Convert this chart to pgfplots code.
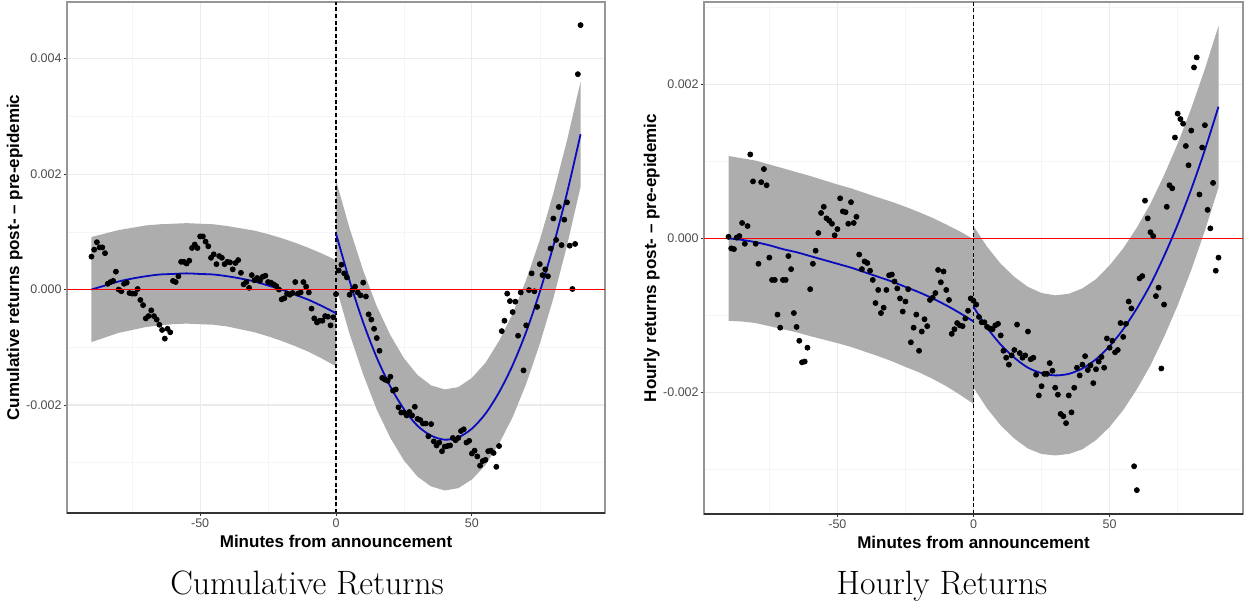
\documentclass[border=0pt]{standalone}
\usepackage{fontspec}
\setsansfont{Liberation Sans}
\usepackage{pgfplots}
\usepackage{pgfplotstable}
\pgfplotsset{compat=1.18}

\definecolor{band}{RGB}{173,173,173}
\definecolor{fitblue}{RGB}{10,10,190}
\definecolor{tickgray}{RGB}{77,77,77}
\definecolor{gridmaj}{RGB}{235,235,235}
\definecolor{gridmin}{RGB}{245,245,245}
\definecolor{frame}{RGB}{150,150,150}
\definecolor{axisdark}{RGB}{51,51,51}
\definecolor{refred}{RGB}{255,0,0}

% values in units of 1e-3
\pgfplotstableread{
x y
-90 0.57
-89 0.69
-88 0.82
-87 0.73
-86 0.73
-85 0.63
-84 0.10
-83 0.13
-82 0.15
-81 0.31
-80 0.00
-79 -0.03
-78 0.10
-77 0.12
-76 -0.06
-75 -0.07
-74 -0.07
-73 0.01
-72 -0.18
-71 -0.27
-70 -0.50
-69 -0.46
-68 -0.36
-67 -0.46
-66 -0.52
-65 -0.61
-64 -0.70
-63 -0.85
-62 -0.68
-61 -0.74
-60 0.15
-59 0.13
-58 0.23
-57 0.48
-56 0.48
-55 0.45
-54 0.50
-53 0.72
-52 0.78
-51 0.72
-50 0.92
-49 0.92
-48 0.83
-47 0.75
-46 0.55
-45 0.61
-44 0.44
-43 0.58
-42 0.55
-41 0.44
-40 0.48
-39 0.47
-38 0.35
-37 0.46
-36 0.51
-35 0.29
-34 0.09
-33 0.13
-32 0.03
-31 0.25
-30 0.16
-29 0.20
-28 0.15
-27 0.22
-26 0.24
-25 0.13
-24 0.12
-23 0.09
-22 0.06
-21 0.00
-20 -0.17
-19 -0.15
-18 -0.07
-17 -0.09
-16 -0.06
-15 0.13
-14 -0.07
-13 -0.05
-12 0.13
-11 0.05
-10 -0.05
-9 -0.33
-8 -0.50
-7 -0.57
-6 -0.54
-5 -0.54
-4 -0.46
-3 -0.47
-2 -0.62
-1 -0.48
}\ptsLpre

\pgfplotstableread{
x y
0 -0.08
1 0.33
2 0.43
3 0.28
4 0.21
5 -0.09
6 -0.01
7 0.05
8 -0.05
9 -0.10
10 0.12
11 -0.12
12 -0.43
13 -0.52
14 -0.68
15 -0.84
16 -1.06
17 -1.53
18 -1.56
19 -1.58
20 -1.51
21 -1.75
22 -1.73
23 -2.04
24 -2.13
25 -2.13
26 -2.18
27 -2.12
28 -2.18
29 -2.03
30 -2.24
31 -2.26
32 -2.32
33 -2.32
34 -2.54
35 -2.33
36 -2.63
37 -2.70
38 -2.65
39 -2.80
40 -2.72
41 -2.71
42 -2.70
43 -2.57
44 -2.61
45 -2.57
46 -2.45
47 -2.42
48 -2.65
49 -2.62
50 -2.84
51 -2.79
52 -2.89
53 -3.05
54 -2.97
55 -2.95
56 -2.80
57 -2.79
58 -2.83
59 -3.07
60 -2.71
61 -0.72
62 -0.54
63 -0.07
64 -0.20
65 -0.39
66 -0.21
67 -0.80
68 -0.05
69 -1.40
70 -0.62
71 -0.01
72 0.28
73 -0.03
74 -0.30
75 0.44
76 0.25
77 0.35
78 0.23
79 0.71
80 1.23
81 0.86
82 1.43
83 0.77
84 1.21
85 1.51
86 0.76
87 0.01
88 0.79
89 3.73
90 4.58
}\ptsLpost

\pgfplotstableread{
x y
-90 0.02
-89 -0.13
-88 -0.14
-87 0.01
-86 0.03
-85 0.20
-84 -0.07
-83 0.16
-82 1.09
-81 0.74
-80 -0.07
-79 -0.33
-78 0.73
-77 0.90
-76 0.69
-75 -0.25
-74 -0.54
-73 -0.54
-72 -0.99
-71 -1.16
-70 -0.54
-69 -0.54
-68 -0.23
-67 -0.40
-66 -0.97
-65 -1.15
-64 -1.33
-63 -1.61
-62 -1.60
-61 -1.42
-60 -0.66
-59 -0.33
-58 -0.16
-57 0.07
-56 0.33
-55 0.41
-54 0.26
-53 0.23
-52 0.19
-51 0.04
-50 0.12
-49 0.52
-48 0.35
-47 0.34
-46 0.19
-45 0.47
-44 0.20
-43 0.28
-42 -0.21
-41 -0.40
-40 -0.30
-39 -0.32
-38 -0.42
-37 -0.54
-36 -0.84
-35 -0.67
-34 -0.97
-33 -0.90
-32 -0.67
-31 -0.48
-30 -0.47
-29 -0.56
-28 -0.65
-27 -0.78
-26 -0.95
-25 -0.82
-24 -0.66
-23 -1.35
-22 -1.16
-21 -0.99
-20 -1.46
-19 -1.21
-18 -1.05
-17 -1.14
-16 -0.80
-15 -0.77
-14 -0.71
-13 -0.41
-12 -0.57
-11 -0.43
-10 -0.67
-9 -0.80
-8 -1.24
-7 -1.18
-6 -1.10
-5 -1.13
-4 -1.14
-3 -1.04
-2 -0.94
-1 -0.78
}\ptsRpre

\pgfplotstableread{
x y
0 -0.81
1 -0.86
2 -1.02
3 -1.09
4 -1.09
5 -1.15
6 -1.17
7 -1.18
8 -1.13
9 -1.11
10 -1.26
11 -1.46
12 -1.55
13 -1.64
14 -1.52
15 -1.45
16 -1.12
17 -1.49
18 -1.55
19 -1.52
20 -1.21
21 -1.57
22 -1.55
23 -1.77
24 -2.04
25 -1.92
26 -1.76
27 -1.76
28 -1.62
29 -1.72
30 -1.94
31 -2.03
32 -2.28
33 -2.31
34 -2.40
35 -2.04
36 -2.26
37 -1.94
38 -1.68
39 -1.78
40 -1.64
41 -1.53
42 -1.71
43 -1.65
44 -1.88
45 -1.70
46 -1.60
47 -1.54
48 -1.68
49 -1.30
50 -1.42
51 -1.33
52 -1.48
53 -1.45
54 -1.10
55 -1.28
56 -1.11
57 -0.82
58 -0.91
59 -2.96
60 -3.27
61 -0.52
62 -0.49
63 0.49
64 0.26
65 0.08
66 0.03
67 -0.75
68 -0.64
69 -1.69
70 -0.86
71 0.41
72 0.69
73 0.65
74 1.31
75 1.62
76 1.55
77 1.49
78 1.20
79 0.95
80 1.40
81 2.22
82 2.35
83 0.57
84 1.18
85 1.47
86 0.37
87 0.13
88 0.72
89 -0.42
90 -0.25
}\ptsRpost

% fitted curves
\pgfplotstableread{
x y
-90 0.00
-85 0.07
-80 0.14
-75 0.19
-70 0.23
-65 0.26
-60 0.27
-55 0.28
-50 0.27
-45 0.26
-40 0.23
-35 0.19
-30 0.14
-25 0.07
-20 0.00
-15 -0.09
-10 -0.18
-5 -0.29
0 -0.41
}\fitLpre

\pgfplotstableread{
x y
0 0.97
5 0.15
10 -0.57
15 -1.18
20 -1.68
25 -2.07
30 -2.36
35 -2.53
40 -2.60
45 -2.56
50 -2.41
55 -2.15
60 -1.78
65 -1.31
70 -0.73
75 -0.04
80 0.76
85 1.67
90 2.69
}\fitLpost

\pgfplotstableread{
x y
-90 0.00
-85 -0.02
-80 -0.05
-75 -0.09
-70 -0.14
-65 -0.18
-60 -0.23
-55 -0.28
-50 -0.33
-45 -0.38
-40 -0.44
-35 -0.50
-30 -0.56
-25 -0.63
-20 -0.70
-15 -0.78
-10 -0.87
-5 -0.97
0 -1.08
}\fitRpre

\pgfplotstableread{
x y
0 -0.89
5 -1.16
10 -1.38
15 -1.55
20 -1.68
25 -1.75
30 -1.78
35 -1.76
40 -1.69
45 -1.57
50 -1.40
55 -1.18
60 -0.91
65 -0.60
70 -0.23
75 0.18
80 0.64
85 1.15
90 1.71
}\fitRpost

% confidence bands: upper edge left to right, then lower edge right to left
\pgfplotstableread{
x y
-90 0.91
-85 0.97
-80 1.03
-75 1.07
-70 1.11
-65 1.13
-60 1.14
-55 1.15
-50 1.14
-45 1.13
-40 1.10
-35 1.06
-30 1.02
-25 0.96
-20 0.89
-15 0.81
-10 0.72
-5 0.62
0 0.51
0 -1.33
-5 -1.20
-10 -1.08
-15 -0.98
-20 -0.89
-25 -0.81
-30 -0.74
-35 -0.69
-40 -0.64
-45 -0.61
-50 -0.60
-55 -0.59
-60 -0.60
-65 -0.62
-70 -0.65
-75 -0.70
-80 -0.75
-85 -0.83
-90 -0.91
}\bandLpre

\pgfplotstableread{
x y
0 1.89
5 1.06
10 0.33
15 -0.29
20 -0.79
25 -1.19
30 -1.48
35 -1.66
40 -1.73
45 -1.69
50 -1.53
55 -1.27
60 -0.89
65 -0.42
70 0.17
75 0.86
80 1.67
85 2.58
90 3.60
90 1.78
85 0.76
80 -0.15
75 -0.94
70 -1.63
65 -2.21
60 -2.67
55 -3.04
50 -3.29
45 -3.44
40 -3.48
35 -3.41
30 -3.24
25 -2.96
20 -2.57
15 -2.08
10 -1.47
5 -0.77
0 0.05
}\bandLpost

\pgfplotstableread{
x y
-90 1.07
-85 1.04
-80 1.01
-75 0.96
-70 0.91
-65 0.86
-60 0.81
-55 0.755
-50 0.70
-45 0.65
-40 0.59
-35 0.53
-30 0.475
-25 0.41
-20 0.34
-15 0.265
-10 0.18
-5 0.09
0 -0.01
0 -2.15
-5 -2.03
-10 -1.92
-15 -1.825
-20 -1.74
-25 -1.67
-30 -1.595
-35 -1.53
-40 -1.47
-45 -1.41
-50 -1.36
-55 -1.315
-60 -1.27
-65 -1.22
-70 -1.18
-75 -1.14
-80 -1.10
-85 -1.08
-90 -1.07
}\bandRpre

\pgfplotstableread{
x y
0 0.16
5 -0.11
10 -0.33
15 -0.50
20 -0.63
25 -0.71
30 -0.74
35 -0.72
40 -0.65
45 -0.53
50 -0.35
55 -0.13
60 0.14
65 0.45
70 0.82
75 1.23
80 1.69
85 2.20
90 2.76
90 0.66
85 0.10
80 -0.41
75 -0.87
70 -1.28
65 -1.65
60 -1.96
55 -2.23
50 -2.45
45 -2.62
40 -2.74
35 -2.80
30 -2.82
25 -2.80
20 -2.73
15 -2.60
10 -2.43
5 -2.21
0 -1.94
}\bandRpost

\pgfplotsset{
  panel/.style={
    scale only axis, anchor=south west,
    xmin=-99, xmax=99,
    xtick={-50,0,50}, xticklabels={-50,0,50},
    minor xtick={-75,-25,25,75},
    minor ytick={-3,-1,1,3},
    grid=both,
    major grid style={gridmaj, line width=0.55pt},
    minor grid style={gridmin, line width=0.3pt},
    tick pos=left, tick align=outside,
    major tick length=1.5pt, minor tick length=0pt,
    tick style={axisdark, line width=0.4pt},
    axis line style={frame, line width=0.8pt},
    ticklabel style={font=\sffamily\fontsize{6.25}{7}\selectfont, text=tickgray},
    xticklabel style={inner sep=1pt},
    yticklabel style={inner sep=1pt},
    label style={font=\sffamily\bfseries\fontsize{8.5}{10}\selectfont},
    xlabel={Minutes from announcement},
    xlabel style={at={(axis description cs:0.5,-0.055)}, anchor=center},
    ylabel style={at={(axis description cs:-0.097,0.5)}, anchor=center},
    scaled ticks=false,
  },
  bandstyle/.style={fill=band, draw=none},
  dotstyle/.style={only marks, mark=*, mark size=1.25pt, color=black},
  fitstyle/.style={color=fitblue, line width=0.9pt, smooth},
  hzeroline/.style={color=refred, line width=0.6pt},
  veventline/.style={color=black, line width=0.7pt, dash pattern=on 2pt off 1.3pt},
}

\begin{document}
\begin{tikzpicture}
\path (0,0) rectangle (623.5pt,301pt);

\begin{axis}[panel, at={(33.5pt,44.5pt)}, width=269pt, height=255.5pt,
  ymin=-3.87, ymax=4.98,
  ytick={-2,0,2,4}, yticklabels={-0.002,0.000,0.002,0.004},
  ylabel={Cumulative returns post- -- pre-epidemic}]
  \addplot[bandstyle] table {\bandLpre};
  \addplot[bandstyle] table {\bandLpost};
  \addplot[hzeroline] coordinates {(-99,0) (99,0)};
  \addplot[veventline] coordinates {(0,-3.87) (0,4.98)};
  \addplot[fitstyle] table {\fitLpre};
  \addplot[fitstyle] table {\fitLpost};
  \addplot[dotstyle] table {\ptsLpre};
  \addplot[dotstyle] table {\ptsLpost};
  \addplot[color=axisdark, line width=0.6pt] coordinates {(-99,-3.87) (99,-3.87)};
  \coordinate (lz1) at (axis cs:-99,0);
  \coordinate (lz2) at (axis cs:99,0);
\end{axis}
% the zero line of the left panel once more, above the axis
\draw[color=refred, line width=0.65pt] (lz1) -- (lz2);

\begin{axis}[panel, at={(352pt,44pt)}, width=269.5pt, height=256pt,
  ymin=-3.58, ymax=3.07,
  ytick={-2,0,2}, yticklabels={-0.002,0.000,0.002},
  ylabel={Hourly returns post- -- pre-epidemic}]
  \addplot[bandstyle] table {\bandRpre};
  \addplot[bandstyle] table {\bandRpost};
  \addplot[hzeroline] coordinates {(-99,0) (99,0)};
  \addplot[veventline] coordinates {(0,-3.58) (0,3.07)};
  \addplot[fitstyle] table {\fitRpre};
  \addplot[fitstyle] table {\fitRpost};
  \addplot[dotstyle] table {\ptsRpre};
  \addplot[dotstyle] table {\ptsRpost};
  \addplot[color=axisdark, line width=0.6pt] coordinates {(-99,-3.58) (99,-3.58)};
\end{axis}

\node[anchor=base, font=\fontsize{16.9}{20}\selectfont] at (153.5pt,4pt) {Cumulative Returns};
\node[anchor=base, font=\fontsize{16.9}{20}\selectfont] at (471pt,4pt) {Hourly Returns};
\end{tikzpicture}
\end{document}
